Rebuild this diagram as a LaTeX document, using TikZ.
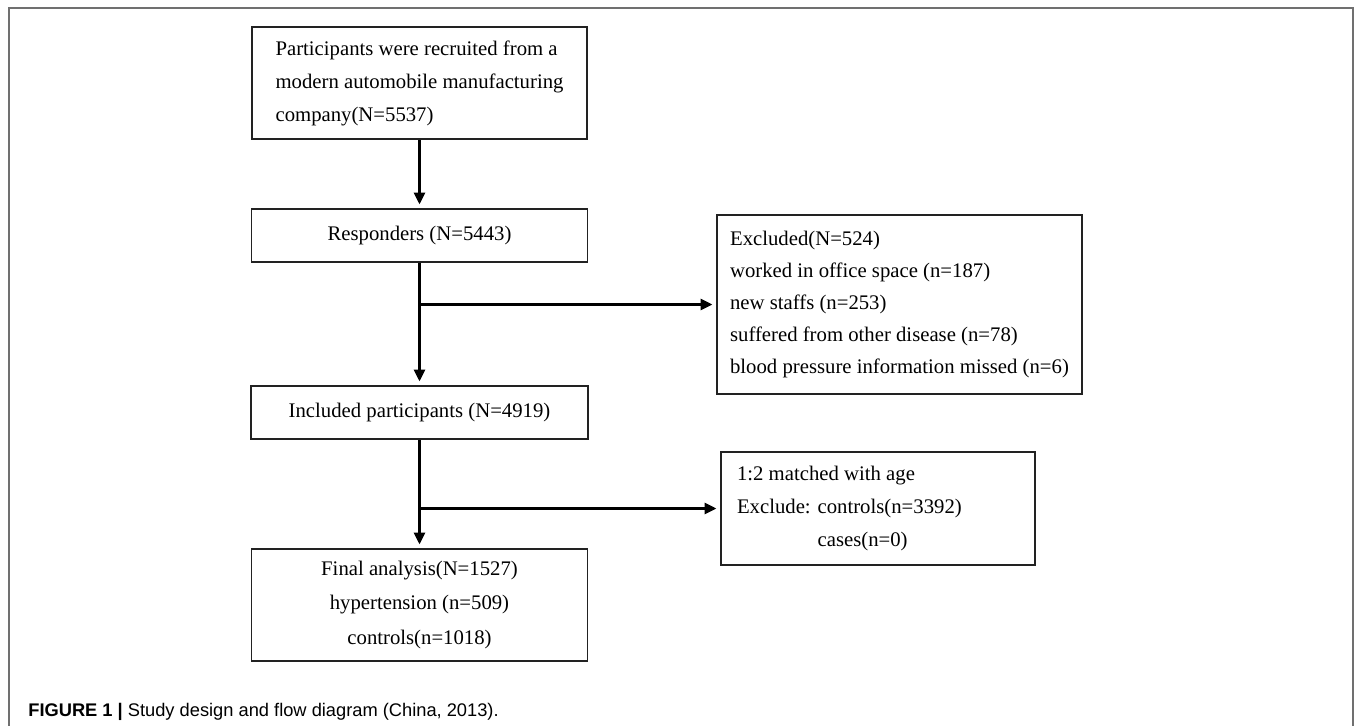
\documentclass[tikz,border=0pt]{standalone}
\usepackage{fontspec}
\setmainfont{Liberation Serif}
\setsansfont{Liberation Sans}
\usepackage{tikz}
\usetikzlibrary{arrows.meta,positioning,calc}
\usepackage{xcolor}
\definecolor{FrameGray}{HTML}{707070}
\definecolor{BoxLine}{HTML}{222222}

\begin{document}
\begin{tikzpicture}[
    flowbox/.style={draw=BoxLine, line width=1.1pt, fill=white, font=\fontsize{11.8}{18.8}\selectfont, inner sep=0pt},
    listbox/.style={flowbox, align=flush left},
    arr/.style={-{Triangle[length=0.24cm, width=0.22cm]}, line width=1.7pt, shorten >=2pt}
  ]
    \useasboundingbox (0,0) rectangle (27.1,-14.52);
    \draw[FrameGray, line width=0.85pt] (0.18,-14.6) -- (0.18,-0.16) -- (27.06,-0.16) -- (27.06,-14.6);

    \node[listbox, minimum width=6.70cm, minimum height=2.24cm] (rec) at (8.39, -1.66) {Participants were recruited from a\\modern automobile manufacturing\\company(N=5537)};
    \node[flowbox, minimum width=6.72cm, minimum height=1.06cm] (resp) at (8.39, -4.71) {Responders (N=5443)};
    \node[flowbox, minimum width=6.74cm, minimum height=1.06cm] (incl) at (8.39, -8.25) {Included participants (N=4919)};
    \node[flowbox, align=center, minimum width=6.72cm, minimum height=2.24cm, font=\fontsize{11.8}{19.4}\selectfont] (final) at (8.39, -12.10) {Final analysis(N=1527)\\hypertension (n=509)\\controls(n=1018)};
    \node[listbox, minimum width=7.30cm, minimum height=3.58cm, font=\fontsize{11.8}{18.2}\selectfont] (excl) at (17.99, -6.09) {Excluded(N=524)\\worked in office space (n=187)\\new staffs (n=253)\\suffered from other disease (n=78)\\blood pressure information missed (n=6)};
    \node[listbox, text width=5.64cm, inner xsep=0.32cm, minimum height=2.26cm] (match) at (17.56, -10.17) {1:2 matched with age\\Exclude: controls(n=3392)\\\hphantom{Exclude: }cases(n=0)};

    \coordinate (b1) at (resp.south |- excl.west);
    \coordinate (b2) at (incl.south |- match.west);

    \draw[arr] (rec) -- (resp);
    \draw[arr] (resp) -- (incl);
    \draw[arr] (b1) -- (excl.west);
    \draw[arr] (incl) -- (final);
    \draw[arr] (b2) -- (match.west);

    \node[anchor=base west, font=\sffamily\fontsize{10.4}{12}\selectfont, inner sep=0pt] (cap) at (0.56, -14.32) {\textbf{FIGURE 1 |} Study design and flow diagram (China, 2013).};
  \end{tikzpicture}
\end{document}
